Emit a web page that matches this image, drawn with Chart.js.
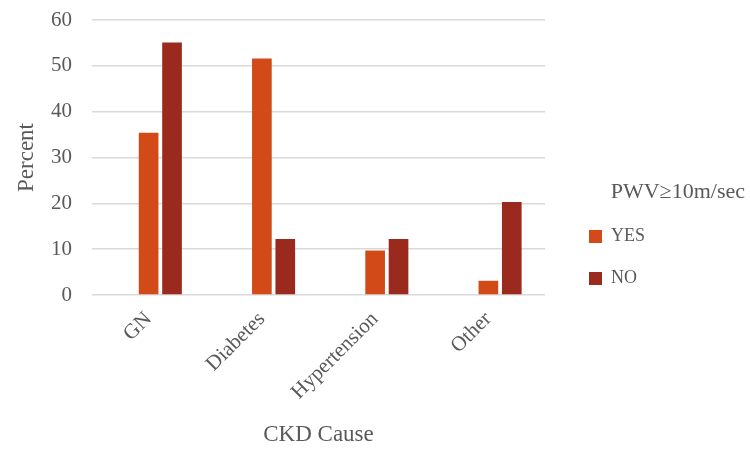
<!DOCTYPE html>
<html>
<head>
<meta charset="utf-8">
<script src="https://cdn.jsdelivr.net/npm/chart.js@4/dist/chart.umd.min.js"></script>
<style>
  html, body { margin: 0; padding: 0; background: #fff; }
  #wrap { width: 750px; height: 449px; }
</style>
</head>
<body>
<div id="wrap"><canvas id="myChart"></canvas></div>
<script>
const causes = ['GN', 'Diabetes', 'Hypertension', 'Other'];
const yesValues = [35.4, 51.6, 9.7, 3.1];
const noValues = [55.1, 12.2, 12.2, 20.3];
const emptySeries = [null, null, null, null]; // header column, no values
const yTicks = [0, 10, 20, 30, 40, 50, 60];

const textColor = '#595959';
const serif = "'Liberation Serif', 'DejaVu Serif', serif";

// legend column: fixed width, items pushed in from the plot edge
const legendLayout = {
  id: 'legendLayout',
  beforeUpdate(chart) {
    const lg = chart.legend;
    if (lg && !lg._fixedFit) {
      const fit = lg.fit.bind(lg);
      lg.fit = function () { fit(); this.width = 205; };
      lg._fixedFit = true;
    }
  },
  afterLayout(chart) {
    const lg = chart.legend;
    lg.left = chart.chartArea.right + 20;
    lg.right = 745;
    lg.width = lg.right - lg.left;
    lg.top += 22;
    lg.bottom += 22;
  }
};

const ctx = document.getElementById('myChart').getContext('2d');

const data = {
  labels: causes,
  datasets: [
    {
      label: '',
      data: emptySeries,
      backgroundColor: 'rgba(0,0,0,0)'
    },
    {
      label: 'YES',
      data: yesValues,
      backgroundColor: '#D24A17'
    },
    {
      label: 'NO',
      data: noValues,
      backgroundColor: '#9A2A1E'
    }
  ]
};

const myChart = new Chart(ctx, {
  type: 'bar',
  data: data,
  plugins: [legendLayout],
  options: {
    responsive: true,
    maintainAspectRatio: false,
    animation: false,
    devicePixelRatio: 1,
    categoryPercentage: 0.62,
    barPercentage: 0.84,
    layout: { padding: 0 },
    plugins: {
      tooltip: { enabled: false },
      legend: {
        position: 'right',
        align: 'center',
        title: {
          display: true,
          text: 'PWV≥10m/sec',
          color: textColor,
          position: 'end',
          font: { family: serif, size: 22, lineHeight: 1.0 },
          padding: { top: 0, bottom: 0 }
        },
        labels: {
          color: textColor,
          font: { family: serif, size: 18 },
          boxWidth: 13,
          boxHeight: 13,
          padding: 24,
          filter: item => item.text !== ''
        }
      }
    },
    scales: {
      x: {
        grid: { display: false },
        border: { display: false },
        ticks: {
          color: textColor,
          font: { family: serif, size: 21 },
          minRotation: 45,
          maxRotation: 45,
          padding: 4
        },
        title: {
          display: true,
          text: 'CKD Cause',
          color: textColor,
          font: { family: serif, size: 23 },
          padding: { top: 0, bottom: 0 }
        },
        afterFit: scale => { scale.height = 154; }
      },
      y: {
        min: 0,
        max: 60,
        afterBuildTicks: scale => { scale.ticks = yTicks.map(v => ({ value: v })); },
        grid: { color: '#D9D9D9', lineWidth: 1.5, drawTicks: false },
        border: { display: false },
        ticks: {
          color: textColor,
          font: { family: serif, size: 21 },
          padding: 20
        },
        title: {
          display: true,
          text: 'Percent',
          color: textColor,
          font: { family: serif, size: 23 },
          padding: { top: 13, bottom: 0 }
        },
        afterFit: scale => {
          scale.width = 92;
          scale.paddingTop = 20;
          scale.paddingBottom = 0;
        }
      }
    }
  }
});
</script>
</body>
</html>
